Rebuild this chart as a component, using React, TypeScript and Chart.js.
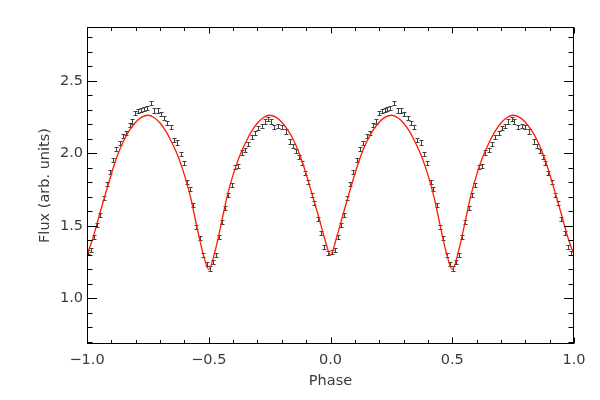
import React, { useEffect, useRef } from 'react';
import { Chart, registerables } from 'chart.js';

Chart.register(...registerables);

// Observed light curve over one phase cycle (plotted at phase-1 and phase)
const DATA_PHASE = [0.005,0.018,0.030,0.043,0.055,0.068,0.081,0.094,0.108,0.121,0.134,0.148,0.161,0.175,0.186,0.198,0.210,0.222,0.234,0.246,0.262,0.276,0.290,0.303,0.317,0.330,0.344,0.357,0.370,0.384,0.397,0.411,0.422,0.436,0.448,0.463,0.478,0.491,0.505,0.516,0.529,0.542,0.553,0.567,0.580,0.594,0.608,0.621,0.635,0.649,0.662,0.676,0.690,0.703,0.717,0.731,0.745,0.754,0.768,0.786,0.800,0.817,0.834,0.847,0.860,0.872,0.882,0.895,0.909,0.923,0.933,0.947,0.961,0.975,0.988];
const DATA_FLUX = [1.320,1.333,1.420,1.505,1.575,1.690,1.792,1.874,1.955,2.032,2.070,2.121,2.140,2.197,2.220,2.281,2.292,2.300,2.305,2.312,2.350,2.296,2.296,2.275,2.243,2.209,2.181,2.093,2.075,1.995,1.932,1.805,1.752,1.644,1.494,1.414,1.298,1.240,1.206,1.252,1.298,1.425,1.528,1.621,1.713,1.782,1.909,1.914,2.006,2.024,2.066,2.116,2.140,2.174,2.190,2.220,2.237,2.220,2.185,2.190,2.181,2.151,2.082,2.052,2.015,1.978,1.932,1.867,1.805,1.713,1.660,1.545,1.452,1.355,1.310];
const FLUX_ERR = 0.014;

// Model curve over one phase cycle
const MODEL_PHASE = [0,0.025,0.05,0.075,0.1,0.125,0.15,0.175,0.2,0.225,0.25,0.275,0.3,0.325,0.35,0.375,0.4,0.425,0.45,0.475,0.5,0.525,0.55,0.575,0.6,0.625,0.65,0.675,0.7,0.725,0.75,0.775,0.8,0.825,0.85,0.875,0.9,0.925,0.95,0.975,1];
const MODEL_FLUX = [1.30,1.42,1.57,1.715,1.858,1.985,2.085,2.16,2.215,2.25,2.263,2.248,2.21,2.15,2.07,1.975,1.852,1.70,1.505,1.32,1.20,1.32,1.505,1.70,1.852,1.975,2.07,2.15,2.21,2.248,2.263,2.25,2.215,2.16,2.085,1.985,1.858,1.715,1.57,1.42,1.30];

const CYCLE_SHIFTS = [-1, 0];

const X_MIN = -1;
const X_MAX = 1;
const Y_MIN = 0.685;
const Y_MAX = 2.872;
const X_TICKS = [-1, -0.5, 0, 0.5, 1];
const Y_TICKS = [1.0, 1.5, 2.0, 2.5];
const X_MINOR_STEP = 0.1;
const Y_MINOR_STEP = 0.1;

const X_TITLE = 'Phase';
const Y_TITLE = 'Flux (arb. units)';

const FONT_FAMILY = "'DejaVu Sans', sans-serif";
const TEXT_COLOR = '#3a3a3a';

function fmt(v: number): string {
  const s = v.toFixed(1);
  return s.startsWith('-') ? '\u2212' + s.slice(1) : s;
}

const frameTicksPlugin = {
  id: 'frameTicks',
  afterDatasetsDraw(chart: any) {
    const { ctx, chartArea } = chart;
    const xs = chart.scales.x;
    const ys = chart.scales.y;
    const l = Math.round(chartArea.left) + 0.5;
    const r = Math.round(chartArea.right) - 0.5;
    const t = Math.round(chartArea.top) + 0.5;
    const b = Math.round(chartArea.bottom) - 0.5;
    ctx.save();
    ctx.strokeStyle = '#000';
    ctx.lineWidth = 1;
    ctx.strokeRect(l, t, r - l, b - t);

    const xMajLen = 6, xMinLen = 3.5, yMajLen = 9.5, yMinLen = 5;
    ctx.beginPath();
    const nx = Math.round((X_MAX - X_MIN) / X_MINOR_STEP);
    for (let i = 0; i <= nx; i++) {
      const v = +(X_MIN + i * X_MINOR_STEP).toFixed(6);
      const isMajor = X_TICKS.some((m) => Math.abs(m - v) < 1e-6);
      const len = isMajor ? xMajLen : xMinLen;
      const px = Math.round(xs.getPixelForValue(v)) + 0.5;
      ctx.moveTo(px, b);
      ctx.lineTo(px, b - len);
      ctx.moveTo(px, t);
      ctx.lineTo(px, t + len);
    }
    const y0 = Math.ceil(Y_MIN / Y_MINOR_STEP) * Y_MINOR_STEP;
    for (let v = y0; v <= Y_MAX + 1e-9; v += Y_MINOR_STEP) {
      const vv = +v.toFixed(6);
      const isMajor = Y_TICKS.some((m) => Math.abs(m - vv) < 1e-6);
      const len = isMajor ? yMajLen : yMinLen;
      const py = Math.round(ys.getPixelForValue(vv)) + 0.5;
      ctx.moveTo(l, py);
      ctx.lineTo(l + len, py);
      ctx.moveTo(r, py);
      ctx.lineTo(r - len, py);
    }
    ctx.stroke();
    ctx.restore();
  },
};

const errorBarPlugin = {
  id: 'errorBars',
  beforeDatasetsDraw(chart: any) {
    const { ctx, chartArea } = chart;
    const xs = chart.scales.x;
    const ys = chart.scales.y;
    const ds = chart.data.datasets[0];
    ctx.save();
    ctx.beginPath();
    ctx.rect(chartArea.left, chartArea.top, chartArea.right - chartArea.left, chartArea.bottom - chartArea.top);
    ctx.clip();
    ctx.strokeStyle = '#404040';
    ctx.lineWidth = 1;
    ctx.beginPath();
    for (const p of ds.data) {
      const px = Math.round(xs.getPixelForValue(p.x)) + 0.5;
      const yHi = Math.round(ys.getPixelForValue(p.y + p.err)) + 0.5;
      const yLo = Math.round(ys.getPixelForValue(p.y - p.err)) + 0.5;
      ctx.moveTo(px, yHi);
      ctx.lineTo(px, yLo);
      ctx.moveTo(px - 2, yHi);
      ctx.lineTo(px + 2, yHi);
      ctx.moveTo(px - 2, yLo);
      ctx.lineTo(px + 2, yLo);
    }
    ctx.stroke();
    ctx.restore();
  },
};

export default function App() {
  const canvasRef = useRef<HTMLCanvasElement | null>(null);

  useEffect(() => {
    const canvas = canvasRef.current;
    if (!canvas) return;

    const obs: any[] = [];
    for (const s of CYCLE_SHIFTS) {
      DATA_PHASE.forEach((ph, i) => {
        obs.push({ x: ph + s, y: DATA_FLUX[i], err: FLUX_ERR });
      });
    }
    const model: any[] = [];
    CYCLE_SHIFTS.forEach((s, k) => {
      MODEL_PHASE.forEach((ph, i) => {
        if (k > 0 && i === 0) return;
        model.push({ x: ph + s, y: MODEL_FLUX[i] });
      });
    });

    const tickFont = { family: FONT_FAMILY, size: 14.5 };

    const chart = new Chart(canvas, {
      type: 'scatter',
      data: {
        datasets: [
          {
            label: 'data',
            data: obs,
            pointRadius: 0,
            pointHoverRadius: 0,
            showLine: false,
          },
          {
            label: 'model',
            data: model,
            showLine: true,
            borderColor: '#ff1a00',
            borderWidth: 1.3,
            pointRadius: 0,
            pointHoverRadius: 0,
            cubicInterpolationMode: 'monotone',
            fill: false,
          },
        ],
      } as any,
      options: {
        responsive: false,
        animation: false,
        events: [],
        layout: { padding: { left: 0, right: 26, top: 27, bottom: 0 } },
        plugins: {
          legend: { display: false },
          tooltip: { enabled: false },
        },
        scales: {
          x: {
            type: 'linear',
            min: X_MIN,
            max: X_MAX,
            border: { display: false },
            grid: { display: false, drawTicks: false },
            afterBuildTicks: (scale: any) => {
              scale.ticks = X_TICKS.map((v) => ({ value: v }));
            },
            afterFit: (scale: any) => {
              scale.height = 56;
            },
            ticks: {
              font: tickFont,
              color: TEXT_COLOR,
              padding: 8,
              maxRotation: 0,
              autoSkip: false,
              callback: (v: any) => fmt(Number(v)),
            },
            title: {
              display: true,
              text: X_TITLE,
              font: tickFont,
              color: TEXT_COLOR,
              padding: { top: 0, bottom: 10 },
            },
          },
          y: {
            type: 'linear',
            min: Y_MIN,
            max: Y_MAX,
            border: { display: false },
            grid: { display: false, drawTicks: false },
            afterBuildTicks: (scale: any) => {
              scale.ticks = Y_TICKS.map((v) => ({ value: v }));
            },
            afterFit: (scale: any) => {
              scale.width = 87;
            },
            ticks: {
              font: tickFont,
              color: TEXT_COLOR,
              padding: 4,
              autoSkip: false,
              callback: (v: any) => fmt(Number(v)),
            },
            title: {
              display: true,
              text: Y_TITLE,
              font: tickFont,
              color: TEXT_COLOR,
              padding: { top: 37, bottom: 0 },
            },
          },
        },
      } as any,
      plugins: [errorBarPlugin, frameTicksPlugin],
    });

    return () => {
      chart.destroy();
    };
  }, []);

  return (
    <div style={{ position: 'fixed', left: 0, top: 0, width: 600, height: 400, background: '#fff' }}>
      <canvas ref={canvasRef} width={600} height={400} style={{ width: 600, height: 400, display: 'block' }} />
    </div>
  );
}
